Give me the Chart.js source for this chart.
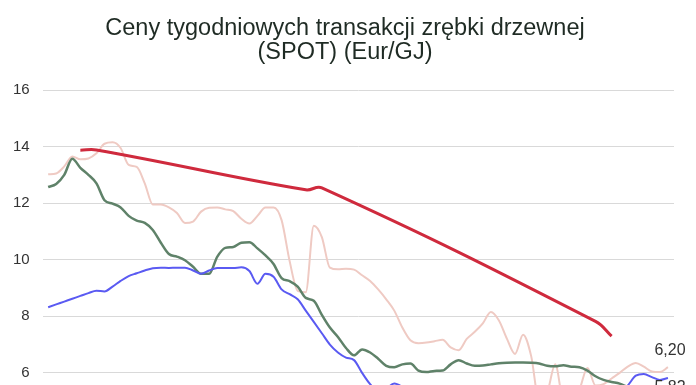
<!DOCTYPE html>
<html lang="pl">
<head>
<meta charset="utf-8">
<title>Ceny zrębki drzewnej</title>
<script src="https://cdn.jsdelivr.net/npm/chart.js@4.4.1/dist/chart.umd.min.js"></script>
<style>
  html, body { margin: 0; padding: 0; background: #fff; overflow: hidden; }
  #wrap { width: 696px; height: 508px; }
</style>
</head>
<body>
<div id="wrap"><canvas id="lineChart" width="696" height="508"></canvas></div>
<script>
// tygodniowe notowania (Eur/GJ)
const seriaRozowa = [
  13.02, 13.05, 13.30, 13.65, 13.55, 13.58, 13.76, 14.10, 14.15, 13.95,
  13.35, 13.28, 12.70, 11.95, 11.95, 11.85, 11.65, 11.30, 11.35, 11.70,
  11.84, 11.85, 11.78, 11.72, 11.45, 11.28, 11.55, 11.85, 11.85, 11.40,
  9.95, 8.90, 8.85, 11.20, 10.80, 9.72, 9.66, 9.68, 9.65, 9.45,
  9.25, 8.95, 8.60, 8.20, 7.60, 7.15, 7.05, 7.07, 7.12, 7.17,
  6.90, 6.80, 7.20, 7.45, 7.75, 8.15, 7.85, 7.20, 6.67, 7.35,
  6.60, 5.00, 5.30, 6.30, 5.00, 4.90, 5.40, 6.17, 5.55, 5.60,
  5.80, 6.00, 6.22, 6.35, 6.22, 6.05, 6.03, 6.20
];
const seriaZielona = [
  12.57, 12.68, 13.00, 13.57, 13.25, 13.00, 12.70, 12.10, 11.98, 11.85,
  11.55, 11.38, 11.30, 11.05, 10.60, 10.20, 10.11, 9.98, 9.75, 9.50,
  9.50, 10.10, 10.42, 10.45, 10.60, 10.62, 10.40, 10.15, 9.85, 9.35,
  9.24, 9.05, 8.65, 8.55, 8.05, 7.60, 7.27, 6.88, 6.62, 6.83,
  6.72, 6.50, 6.25, 6.20, 6.30, 6.33, 6.08, 6.03, 6.07, 6.08,
  6.30, 6.45, 6.33, 6.25, 6.26, 6.30, 6.34, 6.36, 6.37, 6.37,
  6.36, 6.33, 6.25, 6.23, 6.27, 6.22, 6.20, 6.08, 5.88, 5.75,
  5.68, 5.62, 5.50, 5.40, 5.30, 5.25, 5.20, 5.20
];
const seriaNiebieska = [
  8.32, 8.42, 8.52, 8.62, 8.72, 8.82, 8.90, 8.88, 9.05, 9.25,
  9.42, 9.52, 9.62, 9.70, 9.72, 9.71, 9.72, 9.72, 9.62, 9.50,
  9.62, 9.71, 9.71, 9.71, 9.73, 9.60, 9.15, 9.50, 9.40, 8.95,
  8.78, 8.60, 8.20, 7.80, 7.40, 7.00, 6.72, 6.54, 6.45, 6.00,
  5.60, 5.35, 5.45, 5.62, 5.50, 5.30, 5.15, 5.10, 5.05, 5.10,
  5.00, 4.95, 5.00, 5.10, 5.05, 5.00, 5.00, 5.05, 5.10, 5.05,
  5.00, 5.00, 5.05, 5.10, 5.15, 5.10, 5.15, 5.15, 5.20, 5.20,
  5.25, 5.30, 5.55, 5.90, 5.96, 5.85, 5.75, 5.82
];
// seria czerwona - rzadkie notowania (null = brak)
const seriaCzerwona = [
  null, null, null, null, 13.87, null, 13.88, null, null, null,
  null, null, null, null, null, null, null, null, null, null,
  null, null, null, null, null, null, null, null, null, null,
  null, null, 12.47, null, 12.54, null, null, null, null, null,
  null, null, null, null, null, null, null, null, null, null,
  null, null, null, null, null, null, null, null, null, null,
  null, null, null, null, null, null, null, null, 7.82, null,
  7.30, null, null, null, null, null, null, null
];
const tygodnie = seriaRozowa.map((v, i) => i);
const yTicks = [2, 4, 6, 8, 10, 12, 14, 16];
const tytul = ['Ceny tygodniowych transakcji zrębki drzewnej', '(SPOT) (Eur/GJ)'];

const toXY = arr => arr.map((v, i) => ({ x: tygodnie[i], y: v }));

// tytuł rysowany ręcznie (wyśrodkowany na całej szerokości)
const titlePlugin = {
  id: 'titlePlugin',
  afterDraw(chart) {
    const ctx = chart.ctx;
    ctx.save();
    ctx.font = '23.5px "Liberation Sans", Arial, sans-serif';
    ctx.fillStyle = '#1f2b24';
    ctx.textAlign = 'center';
    ctx.textBaseline = 'alphabetic';
    tytul.forEach((line, i) => ctx.fillText(line, 345, 35 + i * 23.5));
    ctx.restore();
  }
};

// etykieta z ostatnią wartością serii
const endLabels = {
  id: 'endLabels',
  afterDatasetsDraw(chart) {
    const ctx = chart.ctx;
    chart.data.datasets.forEach((ds, di) => {
      if (!ds.endLabel) return;
      const meta = chart.getDatasetMeta(di);
      const pt = meta.data[meta.data.length - 1];
      const val = ds.data[ds.data.length - 1].y;
      ctx.save();
      ctx.font = '16px "Liberation Sans", Arial, sans-serif';
      ctx.fillStyle = '#333';
      ctx.textAlign = 'center';
      ctx.textBaseline = ds.endLabel === 'above' ? 'bottom' : 'top';
      const dy = ds.endLabel === 'above' ? -9 : 2;
      ctx.fillText(val.toFixed(2).replace('.', ','), pt.x + 2, pt.y + dy);
      ctx.restore();
    });
  }
};

const ctx = document.getElementById('lineChart');
new Chart(ctx, {
  type: 'line',
  data: {
    datasets: [
      {
        data: toXY(seriaCzerwona),
        borderColor: '#cf2a3d',
        borderWidth: 3,
        spanGaps: true,
        cubicInterpolationMode: 'default',
        tension: 0.4,
        order: 0
      },
      {
        data: toXY(seriaNiebieska),
        borderColor: '#5a5af2',
        borderWidth: 2,
        endLabel: 'below',
        order: 1
      },
      {
        data: toXY(seriaZielona),
        borderColor: '#5f8269',
        borderWidth: 2.5,
        order: 2
      },
      {
        data: toXY(seriaRozowa),
        borderColor: '#efcac3',
        borderWidth: 2,
        endLabel: 'above',
        order: 3
      }
    ]
  },
  options: {
    responsive: false,
    animation: false,
    layout: { padding: { left: 0, right: 22, bottom: 15, top: 90 } },
    elements: {
      point: { radius: 0 },
      line: { tension: 0.4, cubicInterpolationMode: 'monotone' }
    },
    plugins: {
      legend: { display: false },
      tooltip: { enabled: false },
      title: { display: false }
    },
    scales: {
      x: {
        type: 'linear',
        min: -0.68,
        max: tygodnie.length - 1 + 0.75,
        display: false
      },
      y: {
        min: yTicks[0],
        max: yTicks[yTicks.length - 1],
        afterBuildTicks: axis => { axis.ticks = yTicks.map(v => ({ value: v })); },
        border: { display: false },
        grid: { color: '#d9d9d9', lineWidth: 1, drawTicks: false },
        ticks: {
          padding: 13,
          color: '#333',
          font: { family: '"Liberation Sans", Arial, sans-serif', size: 15 }
        }
      }
    }
  },
  plugins: [titlePlugin, endLabels]
});
</script>
</body>
</html>
